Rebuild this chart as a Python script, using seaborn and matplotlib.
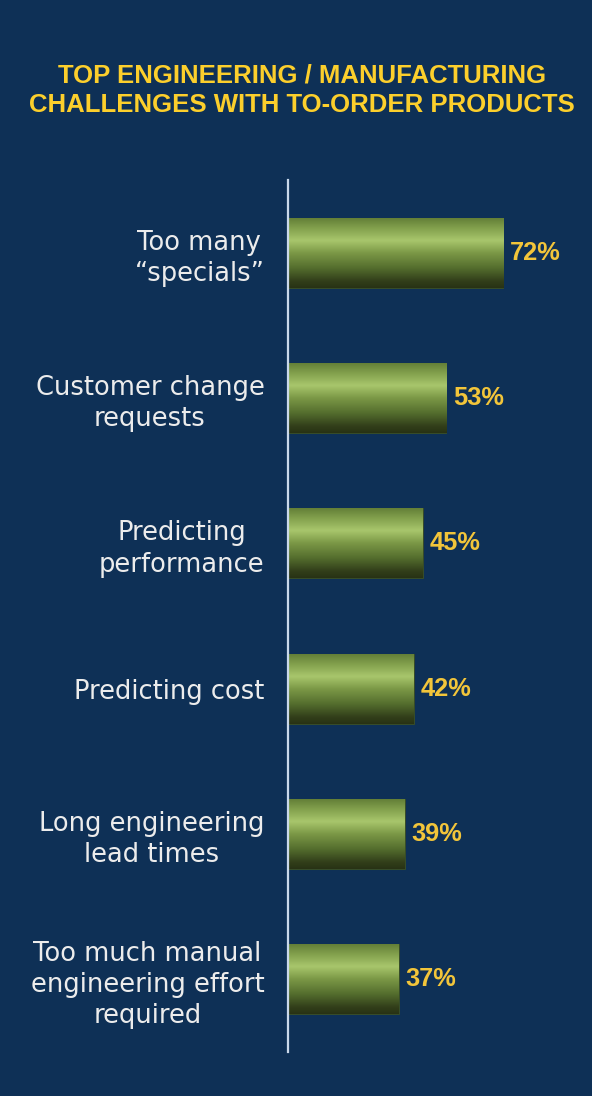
import numpy as np
import pandas as pd
import matplotlib
matplotlib.use("Agg")
import matplotlib.pyplot as plt
from matplotlib.colors import LinearSegmentedColormap
import seaborn as sns

# chart data
challenges = [
    "Too many\n\u201cspecials\u201d",
    "Customer change\nrequests",
    "Predicting\nperformance",
    "Predicting cost",
    "Long engineering\nlead times",
    "Too much manual\nengineering effort\nrequired",
]
shares = [72, 53, 45, 42, 39, 37]
title_lines = ["TOP ENGINEERING / MANUFACTURING", "CHALLENGES WITH TO-ORDER PRODUCTS"]

BG = "#0e3056"
YELLOW = "#fccf2c"
PCT_YELLOW = "#f2c53a"
LABEL = "#ececec"

df = pd.DataFrame({"challenge": challenges, "share": shares})

sns.set_theme(style="white")
plt.rcParams["font.family"] = ["DejaVu Sans"]

W, H = 592, 1096
fig = plt.figure(figsize=(W / 100, H / 100), dpi=100, facecolor=BG)
ax = fig.add_axes([288 / W, 44 / H, 299 / W, 872 / H])
ax.set_facecolor(BG)

sns.barplot(data=df, x="share", y="challenge", orient="h", width=0.48,
            color="#7e9a48", ax=ax)

# green "tube" gradient, top to bottom
tube = LinearSegmentedColormap.from_list("tube", [
    (0.00, "#637f37"),
    (0.15, "#84a24e"),
    (0.32, "#a8c66c"),
    (0.50, "#7b9846"),
    (0.72, "#536c2d"),
    (0.90, "#323f1a"),
    (1.00, "#283214"),
])
grad = np.linspace(0, 1, 256).reshape(-1, 1)
for patch in ax.patches:
    b = patch.get_bbox()
    patch.set_facecolor("none")
    patch.set_edgecolor("#3e5222")
    patch.set_linewidth(0.6)
    img = ax.imshow(grad, cmap=tube, aspect="auto", origin="upper",
                    extent=(b.x0, b.x1, b.y1, b.y0), zorder=1)
    img.set_clip_path(patch)

ax.set_xlim(0, 100)
ax.set_ylim(len(challenges) - 0.5, -0.5)

for i, v in enumerate(shares):
    ax.text(v + 2.3, i, f"{v}%", ha="left", va="center", color=PCT_YELLOW,
            fontsize=18.3, fontweight="bold", family=["Liberation Sans", "DejaVu Sans"])

ax.set_xlabel("")
ax.set_ylabel("")
ax.set_xticks([])
ax.tick_params(axis="y", length=0, pad=17, labelsize=18.5, labelcolor=LABEL)
for lbl in ax.get_yticklabels():
    lbl.set_multialignment("center")
    lbl.set_linespacing(1.27)

for side in ["top", "right", "bottom"]:
    ax.spines[side].set_visible(False)
ax.spines["left"].set_color("#c9d8ea")
ax.spines["left"].set_linewidth(1.6)

fig.text(302 / W, 1 - 90 / H, "\n".join(title_lines), ha="center", va="center",
         color=YELLOW, fontsize=18.5, fontweight="bold", linespacing=1.3,
         family=["Liberation Sans", "DejaVu Sans"])

fig.savefig("out.png", dpi=100, facecolor=BG)
